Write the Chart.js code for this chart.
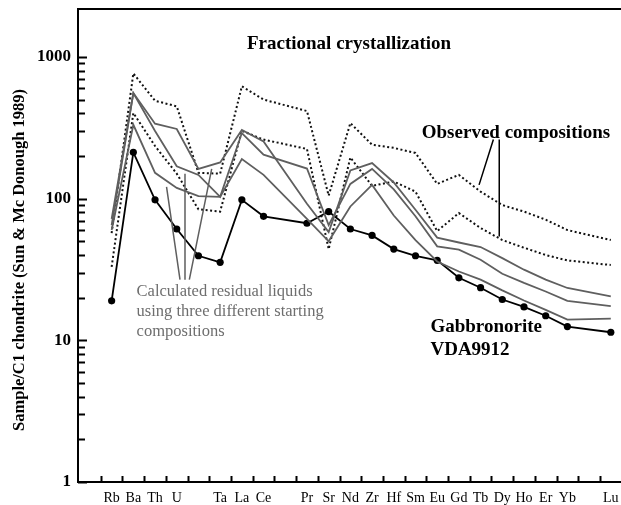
<!DOCTYPE html>
<html>
<head>
<meta charset="utf-8">
<script src="https://cdn.jsdelivr.net/npm/chart.js@4"></script>
<style>
  body { margin: 0; background: #fff; }
  #wrap { width: 621px; height: 505px; }
</style>
</head>
<body>
<div id="wrap"><canvas id="myChart" width="621" height="505"></canvas></div>
<script>
// element order along the x axis (blank = position with no label)
const tickLabels = ['Rb','Ba','Th','U','','Ta','La','Ce','','Pr','Sr','Nd','Zr','Hf','Sm','Eu','Gd','Tb','Dy','Ho','Er','Yb','','Lu'];
const yTickLabels = [1, 10, 100, 1000];

// Gabbronorite VDA9912
const gabbronorite = [19, 212, 98, 61, 39.5, 35.5, 98, 75, null, 67, 81, 61, 55, 44, 39.5, 36.7, 27.6, 23.5, 19.4, 17.2, 14.9, 12.5, null, 11.4];
// observed compositions (dotted)
const observedUpper = [57, 765, 490, 448, 152, 150, 620, 500, null, 415, 105, 341, 240, 228, 210, 127, 147, 112, 90, 81, 71, 60, null, 51];
const observedLower = [33, 402, 235, 150, 84, 81, 301, 261, null, 224, 44, 195, 123, 132, 112, 59, 79, 62, 51, 45, 40, 36.6, null, 34];
// calculated residual liquids (grey)
const residualA = [72, 556, 338, 310, 162, 180, 305, 253, null, 92, 58, 158, 178, 130, 83.5, 53, 49, 45.5, 38, 31.5, 26.8, 23.4, null, 20.4];
const residualB = [65, 556, 300, 169, 147, 103, 290, 204, null, 163, 65, 127, 162, 116, 75, 46, 43.6, 37, 29.5, 25.4, 22.1, 19, null, 17.4];
const residualC = [60, 332, 152, 119, 104, 103, 190, 147, null, 72, 50, 88, 125, 76, 51, 36, 30.6, 26.8, 22.5, 19.1, 16.4, 14, null, 14.2];

const serif = "'Liberation Serif', 'Times New Roman', serif";
const grey = '#5f5f5f';

function toPoints(arr) {
  return arr.map((v, i) => ({x: i, y: v})).filter(p => p.y !== null);
}

function greyLine(arr) {
  return { data: toPoints(arr), borderColor: grey, borderWidth: 1.8, pointRadius: 0, tension: 0 };
}
function dottedLine(arr) {
  return { data: toPoints(arr), borderColor: '#111', borderWidth: 2, borderDash: [2, 2.5], pointRadius: 0, tension: 0 };
}

// inside tick marks, top frame line, annotations
const decorations = {
  id: 'decorations',
  afterDraw(chart) {
    const ctx = chart.ctx;
    const a = chart.chartArea;
    const x = chart.scales.x, y = chart.scales.y;
    const X = v => x.getPixelForValue(v);
    const Y = v => y.getPixelForValue(v);
    ctx.save();
    ctx.strokeStyle = '#000';
    ctx.lineWidth = 2;
    ctx.beginPath();
    ctx.moveTo(a.left - 1, a.top);
    ctx.lineTo(a.right, a.top);
    // y ticks pointing into the plot
    for (let e = 0; e < 3; e++) {
      for (let m = 1; m < 10; m++) {
        const py = Math.round(Y(m * Math.pow(10, e))) + 0.5;
        ctx.moveTo(a.left, py);
        ctx.lineTo(a.left + (m === 1 ? 9 : 7), py);
      }
    }
    const pTop = Math.round(Y(1000)) + 0.5;
    ctx.moveTo(a.left, pTop);
    ctx.lineTo(a.left + 9, pTop);
    // x ticks between elements
    for (let i = 0; i < tickLabels.length; i++) {
      const px = Math.round(X(i - 0.5)) + 0.5;
      ctx.moveTo(px, a.bottom);
      ctx.lineTo(px, a.bottom - 6);
    }
    ctx.stroke();

    // leader lines
    ctx.lineWidth = 1.5;
    ctx.strokeStyle = '#000';
    ctx.beginPath();
    ctx.moveTo(X(17.59), Y(261)); ctx.lineTo(X(16.93), Y(125));
    ctx.moveTo(X(17.86), Y(261)); ctx.lineTo(X(17.86), Y(54));
    ctx.stroke();
    ctx.strokeStyle = grey;
    ctx.beginPath();
    ctx.moveTo(X(3.15), Y(26.8)); ctx.lineTo(X(2.53), Y(121));
    ctx.moveTo(X(3.38), Y(26.8)); ctx.lineTo(X(3.38), Y(150));
    ctx.moveTo(X(3.58), Y(26.8)); ctx.lineTo(X(4.61), Y(162));
    ctx.stroke();

    // texts
    ctx.textBaseline = 'middle';
    ctx.fillStyle = '#000';
    ctx.font = 'bold 19px ' + serif;
    ctx.textAlign = 'center';
    ctx.fillText('Fractional crystallization', X(10.94), Y(1240));
    ctx.textAlign = 'left';
    ctx.fillText('Observed compositions', X(14.29), Y(292));
    ctx.fillText('Gabbronorite', X(14.69), Y(12.3));
    ctx.fillText('VDA9912', X(14.69), Y(8.49));
    ctx.fillStyle = '#6e6e6e';
    ctx.font = '16.5px ' + serif;
    ctx.fillText('Calculated residual liquids', X(1.15), Y(21.9));
    ctx.fillText('using three different starting', X(1.15), Y(15.85));
    ctx.fillText('compositions', X(1.15), Y(11.56));

    // y axis title
    ctx.fillStyle = '#000';
    ctx.font = 'bold 16.5px ' + serif;
    ctx.translate(20, 260);
    ctx.rotate(-Math.PI / 2);
    ctx.textAlign = 'center';
    ctx.fillText('Sample/C1 chondrite (Sun & Mc Donough 1989)', 0, 0);
    ctx.restore();
  }
};

const chart = new Chart(
  document.getElementById('myChart'),
  {
    type: 'line',
    data: {
      datasets: [
        greyLine(residualA),
        greyLine(residualB),
        greyLine(residualC),
        dottedLine(observedUpper),
        dottedLine(observedLower),
        {
          label: 'Gabbronorite VDA9912',
          data: toPoints(gabbronorite),
          borderColor: '#000',
          backgroundColor: '#000',
          borderWidth: 1.8,
          pointRadius: 3.6,
          pointBorderWidth: 0,
          tension: 0
        }
      ]
    },
    options: {
      responsive: false,
      animation: false,
      layout: { autoPadding: false, padding: { top: 9, left: 0, right: 0, bottom: 0 } },
      plugins: { legend: { display: false }, tooltip: { enabled: false } },
      scales: {
        x: {
          type: 'linear',
          min: -1.55,
          max: 23.47,
          afterFit: s => { s.height = 23; s.paddingLeft = 0; s.paddingRight = 0; },
          afterBuildTicks: s => { s.ticks = tickLabels.map((l, i) => ({value: i})); },
          grid: { display: false, drawTicks: false },
          border: { display: true, color: '#000', width: 2 },
          ticks: {
            autoSkip: false,
            maxRotation: 0,
            padding: 8,
            color: '#000',
            font: { family: serif, size: 14 },
            callback: v => tickLabels[v] || ''
          }
        },
        y: {
          type: 'logarithmic',
          min: 1,
          max: 2178,
          afterFit: s => { s.width = 78; s.paddingTop = 0; s.paddingBottom = 0; },
          grid: { display: false, drawTicks: false },
          border: { display: true, color: '#000', width: 2 },
          ticks: {
            autoSkip: false,
            padding: 7,
            color: '#000',
            font: { family: serif, size: 17, weight: 'bold' },
            callback: v => yTickLabels.find(t => Math.abs(t - v) < 1e-6) ? String(Math.round(v)) : ''
          }
        }
      }
    },
    plugins: [decorations]
  }
);
</script>
</body>
</html>
